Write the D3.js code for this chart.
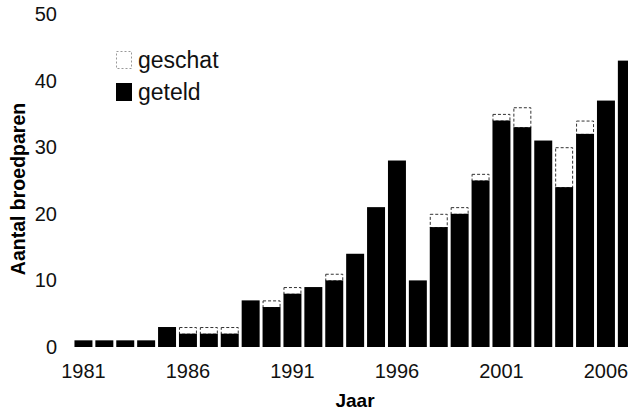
<!DOCTYPE html>
<html>
<head>
<meta charset="utf-8">
<script src="https://cdn.jsdelivr.net/npm/d3@7"></script>
<style>
  body { margin: 0; background: #fff; }
  svg { display: block; font-family: "Liberation Sans", Arial, sans-serif; }
  .axis text { font-size: 20px; fill: #111; }
</style>
</head>
<body>
<div id="chart"></div>
<script>
"use strict";

var years = d3.range(1981, 2008);
// counted breeding pairs
var geteld = [1, 1, 1, 1, 3, 2, 2, 2, 7, 6, 8, 9, 10, 14, 21, 28, 10, 18, 20, 25, 34, 33, 31, 24, 32, 37, 43];
// estimated total (counted + estimated part)
var geschat = [1, 1, 1, 1, 3, 3, 3, 3, 7, 7, 9, 9, 11, 14, 21, 28, 10, 20, 21, 26, 35, 36, 31, 30, 34, 37, 43];
var yTicks = [0, 10, 20, 30, 40, 50];
var xTickYears = [1981, 1986, 1991, 1996, 2001, 2006];

var width = 628, height = 418;

var svg = d3.select('#chart').append('svg')
  .attr('width', width)
  .attr('height', height);

var x = d3.scaleBand()
  .domain(years)
  .range([73, 637.3])
  .paddingInner(0.14)
  .paddingOuter(0.07);

var y = d3.scaleLinear()
  .domain([0, 50])
  .range([347, 14]);

var rows = years.map(function(yr, i) {
  return { year: yr, counted: geteld[i], total: geschat[i] };
});

//estimated part, drawn first as a dashed outline
svg.append('g').selectAll('rect.est')
  .data(rows.filter(function(d) { return d.total > d.counted; }))
  .enter().append('rect')
  .attr('class', 'est')
  .attr('x', function(d) { return x(d.year) + 0.5; })
  .attr('width', x.bandwidth() - 1)
  .attr('y', function(d) { return y(d.total) + 0.5; })
  .attr('height', function(d) { return y(d.counted) - y(d.total); })
  .attr('fill', '#fff')
  .attr('stroke', '#333')
  .attr('stroke-width', 1)
  .attr('stroke-dasharray', '3,2');

//counted part
svg.append('g').selectAll('rect.cnt')
  .data(rows)
  .enter().append('rect')
  .attr('class', 'cnt')
  .attr('x', function(d) { return x(d.year); })
  .attr('width', x.bandwidth())
  .attr('y', function(d) { return y(d.counted); })
  .attr('height', function(d) { return y(0) - y(d.counted); })
  .attr('fill', '#000');

//y axis: labels only
var yAxis = svg.append('g')
  .attr('class', 'axis')
  .attr('transform', 'translate(60,0)')
  .call(d3.axisLeft(y).tickValues(yTicks).tickSize(0).tickPadding(3));
yAxis.select('.domain').remove();

//x axis: labels only
var xAxis = svg.append('g')
  .attr('class', 'axis')
  .attr('transform', 'translate(0,361)')
  .call(d3.axisBottom(x).tickValues(xTickYears).tickSize(0).tickPadding(3));
xAxis.select('.domain').remove();

svg.append('text')
  .attr('x', 355)
  .attr('y', 407)
  .attr('text-anchor', 'middle')
  .style('font-size', '19px')
  .style('font-weight', 'bold')
  .text('Jaar');

svg.append('text')
  .attr('transform', 'translate(25,189) rotate(-90)')
  .attr('text-anchor', 'middle')
  .style('font-size', '19.5px')
  .style('font-weight', 'bold')
  .text('Aantal broedparen');

//legend
var legend = svg.append('g').attr('transform', 'translate(116,51)');
var legendItems = [
  { label: 'geschat', fill: '#fff', stroke: '#999', dash: '2,2' },
  { label: 'geteld', fill: '#000', stroke: '#000', dash: null }
];
var li = legend.selectAll('g').data(legendItems).enter().append('g')
  .attr('transform', function(d, i) { return 'translate(0,' + (i * 32) + ')'; });
li.append('rect')
  .attr('x', 0.5).attr('y', 0.5)
  .attr('width', 15).attr('height', 17)
  .attr('fill', function(d) { return d.fill; })
  .attr('stroke', function(d) { return d.stroke; })
  .attr('stroke-dasharray', function(d) { return d.dash; });
li.append('text')
  .attr('x', 22)
  .attr('y', 17)
  .style('font-size', '23px')
  .style('fill', '#111')
  .text(function(d) { return d.label; });
</script>
</body>
</html>
